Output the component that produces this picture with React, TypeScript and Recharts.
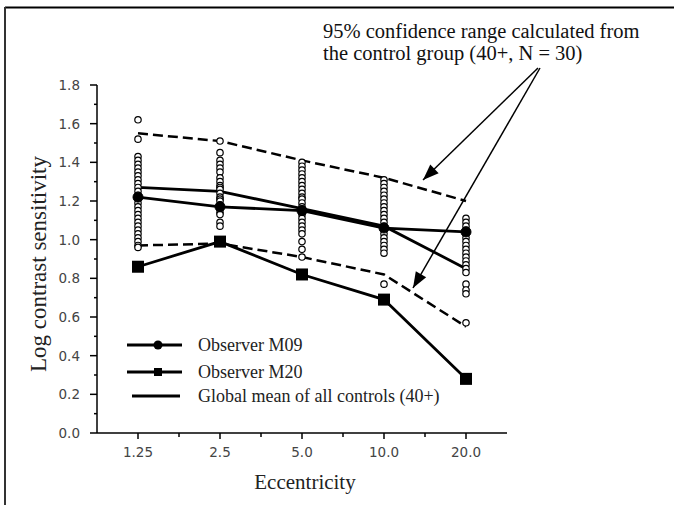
import React from "react";
import { ComposedChart, Line, Scatter, XAxis, YAxis } from "recharts";

// eccentricity categories (plotted at positions 1..5)
const eccLabels = ["1.25", "2.5", "5.0", "10.0", "20.0"];

const globalMean = [1.27, 1.25, 1.16, 1.07, 0.85];
const observerM09 = [1.22, 1.17, 1.15, 1.06, 1.04];
const observerM20 = [0.86, 0.99, 0.82, 0.69, 0.28];
const upper95 = [1.55, 1.51, 1.41, 1.32, 1.2];
const lower95 = [0.97, 0.98, 0.91, 0.82, 0.55];

// individual controls (open circles), one list per eccentricity
const controls125 = [
  1.62, 1.52, 1.43, 1.41, 1.39, 1.37, 1.35, 1.33, 1.31, 1.29, 1.27, 1.25, 1.23, 1.21, 1.19,
  1.17, 1.15, 1.13, 1.11, 1.09, 1.07, 1.05, 1.03, 1.01, 0.99, 0.97, 0.96,
];
const controls25 = [
  1.51, 1.45, 1.41, 1.39, 1.37, 1.35, 1.32, 1.3, 1.28, 1.27, 1.26, 1.24, 1.22, 1.21, 1.2,
  1.18, 1.17, 1.16, 1.14, 1.13, 1.09, 1.07,
];
const controls50 = [
  1.4, 1.38, 1.36, 1.34, 1.32, 1.3, 1.28, 1.26, 1.24, 1.22, 1.21, 1.19, 1.17, 1.16, 1.14,
  1.13, 1.11, 1.09, 1.07, 1.05, 1.03, 0.99, 0.95, 0.91,
];
const controls100 = [
  1.31, 1.29, 1.27, 1.25, 1.23, 1.21, 1.19, 1.17, 1.15, 1.13, 1.11, 1.09, 1.07, 1.05, 1.03,
  1.01, 0.99, 0.97, 0.95, 0.93, 0.77,
];
const controls200 = [
  1.11, 1.09, 1.07, 1.05, 1.03, 1.01, 0.99, 0.97, 0.95, 0.93, 0.91, 0.89, 0.87, 0.85, 0.83,
  0.77, 0.74, 0.72, 0.57,
];
const controlColumns = [controls125, controls25, controls50, controls100, controls200];

const xTicks = [1, 1.5, 2, 2.5, 3, 3.5, 4, 4.5, 5];
const yTicks = [0, 0.1, 0.2, 0.3, 0.4, 0.5, 0.6, 0.7, 0.8, 0.9, 1.0, 1.1, 1.2, 1.3, 1.4, 1.5, 1.6, 1.7, 1.8];

const lineData = eccLabels.map((label, i) => ({
  x: i + 1,
  label,
  mean: globalMean[i],
  m09: observerM09[i],
  m20: observerM20[i],
  upper: upper95[i],
  lower: lower95[i],
}));

const controlData = controlColumns.flatMap((col, i) => col.map((v) => ({ x: i + 1, v })));

const SERIF = "'Liberation Serif', 'Times New Roman', serif";
const SANS = "'DejaVu Sans', Verdana, sans-serif";

function XTick(props: any) {
  const { x, y, payload } = props;
  const v = payload.value as number;
  const major = Number.isInteger(v);
  return (
    <g>
      <line x1={x} x2={x} y1={y} y2={y + (major ? 6 : 4)} stroke="#000" strokeWidth={1.5} />
      {major && (
        <text x={x} y={y + 24} textAnchor="middle" fontFamily={SANS} fontSize={13.5} fill="#444">
          {eccLabels[v - 1]}
        </text>
      )}
    </g>
  );
}

function YTick(props: any) {
  const { x, y, payload } = props;
  const v = payload.value as number;
  const major = Math.round(v * 10) % 2 === 0;
  return (
    <g>
      <line x1={x} x2={x - (major ? 7 : 3)} y1={y} y2={y} stroke="#000" strokeWidth={1.5} />
      {major && (
        <text x={x - 17} y={y + 5} textAnchor="end" fontFamily={SANS} fontSize={13.5} fill="#444">
          {v.toFixed(1)}
        </text>
      )}
    </g>
  );
}

const openCircle = (p: any) => (
  <circle cx={p.cx} cy={p.cy} r={3.2} fill="#fff" stroke="#000" strokeWidth={1.2} />
);

const squareDot = (p: any) => {
  if (p.cx == null || p.cy == null) return <g key={p.index} />;
  return <rect key={p.index} x={p.cx - 6} y={p.cy - 6} width={12} height={12} fill="#000" />;
};

// legend drawn at the lower left of the plot
function LegendBox({ left, top }: { left: number; top: number }) {
  const rows = [
    { y: 12, text: "Observer M09", marker: "circle" },
    { y: 39, text: "Observer M20", marker: "square" },
    { y: 63, text: "Global mean of all controls (40+)", marker: "none" },
  ];
  return (
    <g transform={`translate(${left} ${top})`}>
      {rows.map((r) => (
        <g key={r.text}>
          <line
            x1={r.marker === "none" ? 12 : 7}
            x2={r.marker === "none" ? 60 : 62}
            y1={r.y}
            y2={r.y}
            stroke="#000"
            strokeWidth={2.8}
          />
          {r.marker === "circle" && <circle cx={38} cy={r.y} r={4.5} fill="#000" />}
          {r.marker === "square" && <rect x={34} y={r.y - 4} width={8} height={8} fill="#000" />}
          <text x={78} y={r.y + 6} fontFamily={SERIF} fontSize={18} fill="#222">
            {r.text}
          </text>
        </g>
      ))}
    </g>
  );
}

function arrowHead(x0: number, y0: number, x1: number, y1: number) {
  const dx = x1 - x0;
  const dy = y1 - y0;
  const len = Math.hypot(dx, dy);
  const ux = dx / len;
  const uy = dy / len;
  const L = 16;
  const W = 6;
  const bx = x1 - ux * L;
  const by = y1 - uy * L;
  return `${x1},${y1} ${bx - uy * W},${by + ux * W} ${bx + uy * W},${by - ux * W}`;
}

export default function App() {
  const arrows = [
    [538, 68, 423, 180],
    [540, 68, 413, 288],
  ];
  return (
    <div style={{ position: "absolute", left: 0, top: 0, width: 674, height: 505, background: "#fff" }}>
      <ComposedChart
        width={674}
        height={505}
        data={lineData}
        margin={{ top: 85, right: 167, bottom: 0, left: 0 }}
      >
        <XAxis
          type="number"
          dataKey="x"
          domain={[0.5, 5.5]}
          ticks={xTicks}
          interval={0}
          tickSize={0}
          tickMargin={0}
          tickLine={false}
          tick={<XTick />}
          axisLine={{ stroke: "#000", strokeWidth: 1.5 }}
          height={72}
        />
        <YAxis
          type="number"
          domain={[0, 1.8]}
          ticks={yTicks}
          interval={0}
          tickSize={0}
          tickMargin={0}
          tickLine={false}
          tick={<YTick />}
          axisLine={{ stroke: "#000", strokeWidth: 1.5 }}
          width={97}
        />
        <Line
          dataKey="upper"
          stroke="#000"
          strokeWidth={2.5}
          strokeDasharray="10 5"
          dot={false}
          isAnimationActive={false}
        />
        <Line
          dataKey="lower"
          stroke="#000"
          strokeWidth={2.5}
          strokeDasharray="10 5"
          dot={false}
          isAnimationActive={false}
        />
        <Line dataKey="mean" stroke="#000" strokeWidth={2.8} dot={false} isAnimationActive={false} />
        <Scatter data={controlData} dataKey="v" shape={openCircle} isAnimationActive={false} />
        <Line
          dataKey="m09"
          stroke="#000"
          strokeWidth={2.8}
          dot={{ r: 5, fill: "#000", stroke: "#000", strokeWidth: 1 }}
          isAnimationActive={false}
        />
        <Line dataKey="m20" stroke="#000" strokeWidth={2.8} dot={squareDot} isAnimationActive={false} />
      </ComposedChart>

      <svg
        width={674}
        height={505}
        style={{ position: "absolute", left: 0, top: 0, pointerEvents: "none" }}
      >
        <line x1={5} x2={674} y1={7.5} y2={7.5} stroke="#000" strokeWidth={2} />
        <line x1={5} x2={5} y1={7} y2={505} stroke="#333" strokeWidth={2} />
        <LegendBox left={120} top={333} />
        <text x={323} y={38} fontFamily={SERIF} fontSize={20.5} fill="#111">
          95% confidence range calculated from
        </text>
        <text x={323} y={60} fontFamily={SERIF} fontSize={20.5} fill="#111">
          the control group (40+, N = 30)
        </text>
        {arrows.map(([x0, y0, x1, y1], i) => (
          <g key={i}>
            <line x1={x0} y1={y0} x2={x1} y2={y1} stroke="#000" strokeWidth={1.5} />
            <polygon points={arrowHead(x0, y0, x1, y1)} fill="#000" />
          </g>
        ))}
        <text
          transform="translate(46 264) rotate(-90)"
          textAnchor="middle"
          fontFamily={SERIF}
          fontSize={23}
          fill="#222"
        >
          Log contrast sensitivity
        </text>
        <text x={305} y={489} textAnchor="middle" fontFamily={SERIF} fontSize={21} fill="#222">
          Eccentricity
        </text>
      </svg>
    </div>
  );
}
